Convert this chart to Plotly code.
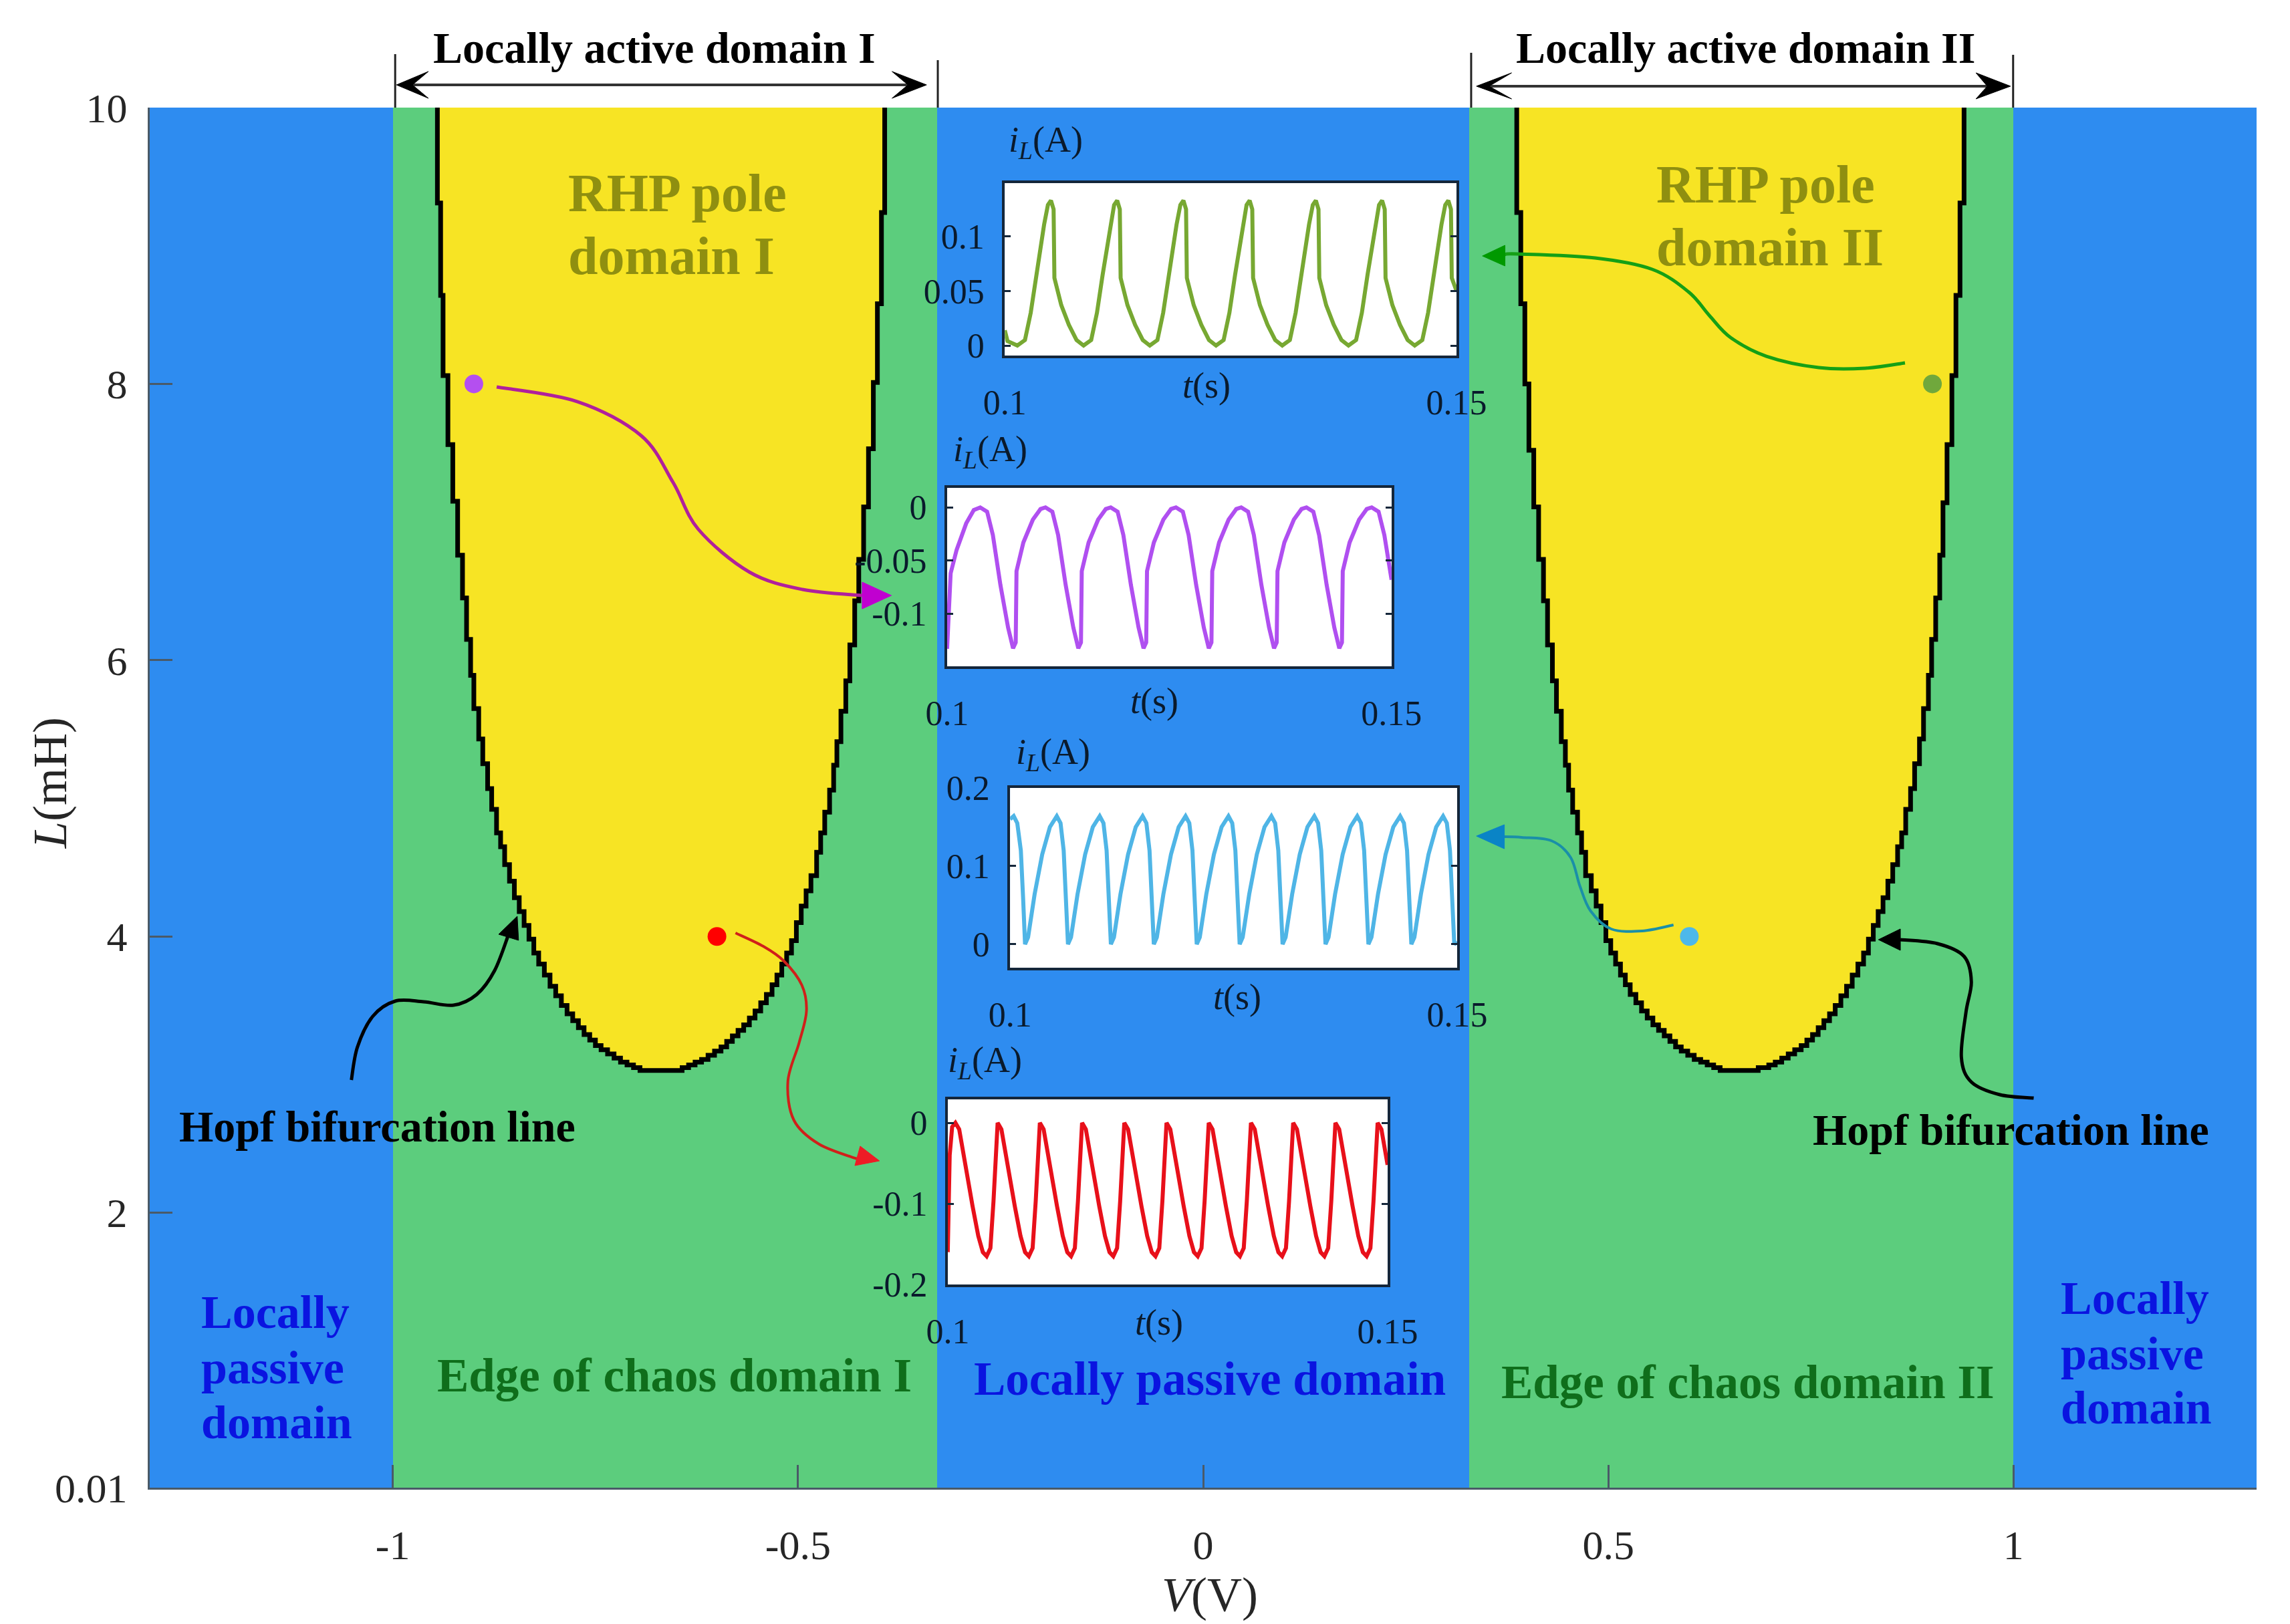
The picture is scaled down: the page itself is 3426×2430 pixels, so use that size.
import plotly.graph_objects as go

# map regions along V
region_edges = [-1.3, -1, -0.328, 0.328, 1, 1.3]
region_code = [0, 1, 0, 1, 0]
L_edges = [0.01, 10]

# Hopf line, domain I (stepped)
hopf1_v = [-0.945, -0.941, -0.938, -0.932, -0.926, -0.920, -0.914, -0.909, -0.904, -0.900, -0.894, -0.889,
           -0.883, -0.878, -0.872, -0.867, -0.862, -0.856, -0.850, -0.844, -0.838, -0.832, -0.826, -0.820,
           -0.813, -0.806, -0.799, -0.792, -0.785, -0.778, -0.771, -0.764, -0.757, -0.750, -0.743, -0.735,
           -0.727, -0.719, -0.711, -0.703, -0.695, -0.643, -0.635, -0.627, -0.619, -0.611, -0.603, -0.595,
           -0.588, -0.581, -0.574, -0.567, -0.560, -0.553, -0.546, -0.539, -0.532, -0.526, -0.520, -0.514,
           -0.508, -0.502, -0.496, -0.490, -0.484, -0.477, -0.472, -0.467, -0.461, -0.456, -0.452, -0.447,
           -0.441, -0.436, -0.430, -0.425, -0.419, -0.413, -0.407, -0.402, -0.397, -0.393, -0.393]
hopf1_l = [10, 9.31, 8.64, 8.06, 7.56, 7.15, 6.76, 6.45, 6.15, 5.89, 5.65, 5.43,
           5.25, 5.07, 4.92, 4.75, 4.65, 4.52, 4.40, 4.28, 4.18, 4.08, 3.98, 3.88,
           3.80, 3.72, 3.64, 3.57, 3.50, 3.44, 3.39, 3.34, 3.29, 3.25, 3.21, 3.18,
           3.15, 3.12, 3.09, 3.07, 3.05, 3.03, 3.05, 3.07, 3.09, 3.11, 3.14, 3.17,
           3.20, 3.24, 3.28, 3.32, 3.36, 3.41, 3.46, 3.52, 3.58, 3.65, 3.72, 3.80,
           3.88, 3.97, 4.10, 4.22, 4.33, 4.44, 4.61, 4.75, 4.90, 5.06, 5.24, 5.41,
           5.63, 5.85, 6.11, 6.43, 6.73, 7.11, 7.53, 8.01, 8.58, 9.24, 10]

# Hopf line, domain II
hopf2_v = [0.387, 0.392, 0.397, 0.402, 0.408, 0.414, 0.420, 0.425, 0.431, 0.436, 0.442, 0.447,
           0.451, 0.456, 0.462, 0.467, 0.472, 0.479, 0.485, 0.491, 0.497, 0.503, 0.509, 0.515,
           0.521, 0.527, 0.534, 0.541, 0.548, 0.555, 0.562, 0.569, 0.576, 0.583, 0.590, 0.598,
           0.606, 0.614, 0.622, 0.630, 0.638, 0.685, 0.698, 0.706, 0.714, 0.722, 0.730, 0.738,
           0.745, 0.752, 0.759, 0.766, 0.773, 0.780, 0.787, 0.794, 0.801, 0.808, 0.815, 0.821,
           0.827, 0.833, 0.839, 0.845, 0.851, 0.857, 0.862, 0.867, 0.873, 0.878, 0.884, 0.889,
           0.895, 0.899, 0.904, 0.909, 0.913, 0.918, 0.924, 0.929, 0.934, 0.939, 0.939]
hopf2_l = [10, 9.24, 8.58, 8.00, 7.52, 7.11, 6.73, 6.43, 6.11, 5.85, 5.63, 5.41,
           5.24, 5.06, 4.90, 4.75, 4.61, 4.44, 4.33, 4.22, 4.10, 3.97, 3.88, 3.80,
           3.72, 3.65, 3.58, 3.52, 3.46, 3.41, 3.36, 3.32, 3.28, 3.24, 3.20, 3.17,
           3.14, 3.11, 3.09, 3.07, 3.05, 3.03, 3.05, 3.07, 3.09, 3.12, 3.15, 3.18,
           3.21, 3.25, 3.29, 3.34, 3.39, 3.44, 3.50, 3.57, 3.64, 3.72, 3.80, 3.88,
           3.98, 4.08, 4.18, 4.28, 4.40, 4.52, 4.65, 4.75, 4.92, 5.07, 5.25, 5.43,
           5.65, 5.89, 6.15, 6.45, 6.76, 7.14, 7.56, 8.06, 8.64, 9.31, 10]

# operating points
point_v = [-0.9, -0.6, 0.9, 0.6]
point_l = [8, 4, 8, 4]
point_colors = ['#b44ff0', '#ff0000', '#70a83c', '#4db8ea']

# inset waveforms, one row per cycle
t_green = [0.1, 0.1003,
           0.10139, 0.10223, 0.10287, 0.10350, 0.10435, 0.10477, 0.10511, 0.10540, 0.10549, 0.10625, 0.10709, 0.10794,
           0.10872, 0.10956, 0.11020, 0.11083, 0.11168, 0.11210, 0.11244, 0.11273, 0.11282, 0.11358, 0.11442, 0.11527,
           0.11605, 0.11689, 0.11753, 0.11816, 0.11901, 0.11943, 0.11977, 0.12006, 0.12015, 0.12091, 0.12175, 0.12260,
           0.12338, 0.12422, 0.12486, 0.12549, 0.12634, 0.12676, 0.12710, 0.12739, 0.12748, 0.12824, 0.12908, 0.12993,
           0.13071, 0.13155, 0.13219, 0.13282, 0.13367, 0.13409, 0.13443, 0.13472, 0.13481, 0.13557, 0.13641, 0.13726,
           0.13804, 0.13888, 0.13952, 0.14015, 0.14100, 0.14142, 0.14176, 0.14205, 0.14214, 0.14290, 0.14374, 0.14459,
           0.14537, 0.14621, 0.14685, 0.14748, 0.14833, 0.14875, 0.14909, 0.14938, 0.14947, 0.15]
i_green = [0.014, 0.004,
           0, 0.005, 0.03, 0.065, 0.111, 0.129, 0.133, 0.125, 0.062, 0.037, 0.019, 0.005,
           0, 0.005, 0.03, 0.065, 0.111, 0.129, 0.133, 0.125, 0.062, 0.037, 0.019, 0.005,
           0, 0.005, 0.03, 0.065, 0.111, 0.129, 0.133, 0.125, 0.062, 0.037, 0.019, 0.005,
           0, 0.005, 0.03, 0.065, 0.111, 0.129, 0.133, 0.125, 0.062, 0.037, 0.019, 0.005,
           0, 0.005, 0.03, 0.065, 0.111, 0.129, 0.133, 0.125, 0.062, 0.037, 0.019, 0.005,
           0, 0.005, 0.03, 0.065, 0.111, 0.129, 0.133, 0.125, 0.062, 0.037, 0.019, 0.005,
           0, 0.005, 0.03, 0.065, 0.111, 0.129, 0.133, 0.125, 0.062, 0.05]

t_purple = [0.1, 0.1002, 0.1004, 0.10107, 0.10215, 0.103,
            0.10373, 0.1045, 0.10515, 0.106, 0.10686, 0.10742, 0.10772, 0.10781, 0.10858, 0.10965, 0.11051,
            0.11107, 0.11184, 0.11249, 0.11334, 0.1142, 0.11476, 0.11506, 0.11515, 0.11592, 0.11699, 0.11785,
            0.11841, 0.11918, 0.11983, 0.12068, 0.12154, 0.1221, 0.1224, 0.12249, 0.12326, 0.12433, 0.12519,
            0.12575, 0.12652, 0.12717, 0.12802, 0.12888, 0.12944, 0.12974, 0.12983, 0.1306, 0.13167, 0.13253,
            0.13309, 0.13386, 0.13451, 0.13536, 0.13622, 0.13678, 0.13708, 0.13717, 0.13794, 0.13901, 0.13987,
            0.14043, 0.1412, 0.14185, 0.1427, 0.14356, 0.14412, 0.14442, 0.14451, 0.14528, 0.14635, 0.14721,
            0.14777, 0.14854, 0.14919, 0.15]
i_purple = [-0.133, -0.1, -0.062, -0.04, -0.015, -0.0025,
            0, -0.004, -0.026, -0.073, -0.113, -0.1325, -0.127, -0.06, -0.033, -0.0115, -0.0015,
            0, -0.004, -0.026, -0.073, -0.113, -0.1325, -0.127, -0.06, -0.033, -0.0115, -0.0015,
            0, -0.004, -0.026, -0.073, -0.113, -0.1325, -0.127, -0.06, -0.033, -0.0115, -0.0015,
            0, -0.004, -0.026, -0.073, -0.113, -0.1325, -0.127, -0.06, -0.033, -0.0115, -0.0015,
            0, -0.004, -0.026, -0.073, -0.113, -0.1325, -0.127, -0.06, -0.033, -0.0115, -0.0015,
            0, -0.004, -0.026, -0.073, -0.113, -0.1325, -0.127, -0.06, -0.033, -0.0115, -0.0015,
            0, -0.004, -0.026, -0.068]

t_blue = [0.1, 0.1004, 0.1008, 0.1012, 0.10145, 0.1016,
          0.10167, 0.10201, 0.10274, 0.10359, 0.10445, 0.10522, 0.10564, 0.10599, 0.1062, 0.10637,
          0.10647, 0.10681, 0.10754, 0.10839, 0.10925, 0.11002, 0.11044, 0.11079, 0.111, 0.11117,
          0.11127, 0.11161, 0.11234, 0.11319, 0.11405, 0.11482, 0.11524, 0.11559, 0.1158, 0.11597,
          0.11607, 0.11641, 0.11714, 0.11799, 0.11885, 0.11962, 0.12004, 0.12039, 0.1206, 0.12077,
          0.12087, 0.12121, 0.12194, 0.12279, 0.12365, 0.12442, 0.12484, 0.12519, 0.1254, 0.12557,
          0.12567, 0.12601, 0.12674, 0.12759, 0.12845, 0.12922, 0.12964, 0.12999, 0.1302, 0.13037,
          0.13047, 0.13081, 0.13154, 0.13239, 0.13325, 0.13402, 0.13444, 0.13479, 0.135, 0.13517,
          0.13527, 0.13561, 0.13634, 0.13719, 0.13805, 0.13882, 0.13924, 0.13959, 0.1398, 0.13997,
          0.14007, 0.14041, 0.14114, 0.14199, 0.14285, 0.14362, 0.14404, 0.14439, 0.1446, 0.14477,
          0.14487, 0.14521, 0.14594, 0.14679, 0.14765, 0.14842, 0.14884, 0.14919, 0.1494, 0.14957,
          0.14967, 0.15]
i_blue = [0.16, 0.164, 0.155, 0.12, 0.06, 0.015,
          0, 0.009, 0.064, 0.115, 0.15, 0.164, 0.155, 0.12, 0.06, 0.015,
          0, 0.009, 0.064, 0.115, 0.15, 0.164, 0.155, 0.12, 0.06, 0.015,
          0, 0.009, 0.064, 0.115, 0.15, 0.164, 0.155, 0.12, 0.06, 0.015,
          0, 0.009, 0.064, 0.115, 0.15, 0.164, 0.155, 0.12, 0.06, 0.015,
          0, 0.009, 0.064, 0.115, 0.15, 0.164, 0.155, 0.12, 0.06, 0.015,
          0, 0.009, 0.064, 0.115, 0.15, 0.164, 0.155, 0.12, 0.06, 0.015,
          0, 0.009, 0.064, 0.115, 0.15, 0.164, 0.155, 0.12, 0.06, 0.015,
          0, 0.009, 0.064, 0.115, 0.15, 0.164, 0.155, 0.12, 0.06, 0.015,
          0, 0.009, 0.064, 0.115, 0.15, 0.164, 0.155, 0.12, 0.06, 0.015,
          0, 0.009, 0.064, 0.115, 0.15, 0.164, 0.155, 0.12, 0.06, 0.015,
          0, 0.003]

t_red = [0.1, 0.10022, 0.1005,
         0.10087, 0.1013, 0.10195, 0.10282, 0.10347, 0.10399, 0.10442, 0.10485, 0.1052, 0.10546, 0.10559,
         0.10567, 0.1061, 0.10675, 0.10762, 0.10827, 0.10879, 0.10922, 0.10965, 0.11, 0.11026, 0.11039,
         0.11047, 0.1109, 0.11155, 0.11242, 0.11307, 0.11359, 0.11402, 0.11445, 0.1148, 0.11506, 0.11519,
         0.11527, 0.1157, 0.11635, 0.11722, 0.11787, 0.11839, 0.11882, 0.11925, 0.1196, 0.11986, 0.11999,
         0.12007, 0.1205, 0.12115, 0.12202, 0.12267, 0.12319, 0.12362, 0.12405, 0.1244, 0.12466, 0.12479,
         0.12487, 0.1253, 0.12595, 0.12682, 0.12747, 0.12799, 0.12842, 0.12885, 0.1292, 0.12946, 0.12959,
         0.12967, 0.1301, 0.13075, 0.13162, 0.13227, 0.13279, 0.13322, 0.13365, 0.134, 0.13426, 0.13439,
         0.13447, 0.1349, 0.13555, 0.13642, 0.13707, 0.13759, 0.13802, 0.13845, 0.1388, 0.13906, 0.13919,
         0.13927, 0.1397, 0.14035, 0.14122, 0.14187, 0.14239, 0.14282, 0.14325, 0.1436, 0.14386, 0.14399,
         0.14407, 0.1445, 0.14515, 0.14602, 0.14667, 0.14719, 0.14762, 0.14805, 0.1484, 0.14866, 0.14879,
         0.14887, 0.1493, 0.15]
i_red = [-0.16, -0.04, -0.005,
         0, -0.008, -0.05, -0.103, -0.14, -0.16, -0.165, -0.155, -0.097, -0.034, -0.006,
         0, -0.008, -0.05, -0.103, -0.14, -0.16, -0.165, -0.155, -0.097, -0.034, -0.006,
         0, -0.008, -0.05, -0.103, -0.14, -0.16, -0.165, -0.155, -0.097, -0.034, -0.006,
         0, -0.008, -0.05, -0.103, -0.14, -0.16, -0.165, -0.155, -0.097, -0.034, -0.006,
         0, -0.008, -0.05, -0.103, -0.14, -0.16, -0.165, -0.155, -0.097, -0.034, -0.006,
         0, -0.008, -0.05, -0.103, -0.14, -0.16, -0.165, -0.155, -0.097, -0.034, -0.006,
         0, -0.008, -0.05, -0.103, -0.14, -0.16, -0.165, -0.155, -0.097, -0.034, -0.006,
         0, -0.008, -0.05, -0.103, -0.14, -0.16, -0.165, -0.155, -0.097, -0.034, -0.006,
         0, -0.008, -0.05, -0.103, -0.14, -0.16, -0.165, -0.155, -0.097, -0.034, -0.006,
         0, -0.008, -0.05, -0.103, -0.14, -0.16, -0.165, -0.155, -0.097, -0.034, -0.006,
         0, -0.008, -0.052]

# tick labels
v_ticks = [-1, -0.5, 0, 0.5, 1]
v_labels = ['-1', '-0.5', '0', '0.5', '1']
l_ticks = [0.01, 2, 4, 6, 8, 10]
l_labels = ['0.01', '2', '4', '6', '8', '10']

W, H = 3426, 2430
LEFT, RIGHT, TOP, BOTTOM = 216, 3392, 153, 2218
SERIF = 'Liberation Serif'
BLUE, GREEN, YELLOW = '#2e8cf0', '#5ccd7d', '#f7e424'
INK = '#0a1a2c'


def px(x):
    return (x - LEFT) / (RIGHT - LEFT)


def py(y):
    return (BOTTOM - y) / (BOTTOM - TOP)


def curve_path(pts):
    # catmull-rom through the points, as an svg path in paper coords
    d = f'M {px(pts[0][0]):.5f} {py(pts[0][1]):.5f}'
    for k in range(len(pts) - 1):
        p0 = pts[max(k - 1, 0)]
        p1 = pts[k]
        p2 = pts[k + 1]
        p3 = pts[min(k + 2, len(pts) - 1)]
        c1 = (p1[0] + (p2[0] - p0[0]) / 6, p1[1] + (p2[1] - p0[1]) / 6)
        c2 = (p2[0] - (p3[0] - p1[0]) / 6, p2[1] - (p3[1] - p1[1]) / 6)
        d += (f' C {px(c1[0]):.5f} {py(c1[1]):.5f} {px(c2[0]):.5f} {py(c2[1]):.5f}'
              f' {px(p2[0]):.5f} {py(p2[1]):.5f}')
    return d


def poly_path(pts):
    return 'M ' + ' L '.join(f'{px(x):.5f} {py(y):.5f}' for x, y in pts) + ' Z'


shapes = []


def add_curve(pts, color, width):
    shapes.append(dict(type='path', xref='paper', yref='paper', path=curve_path(pts),
                       line=dict(color=color, width=width)))


def add_head(pts, color):
    shapes.append(dict(type='path', xref='paper', yref='paper', path=poly_path(pts),
                       fillcolor=color, line=dict(color=color, width=1)))


def add_bar(x0, y0, x1, y1, color='#222222', width=3):
    shapes.append(dict(type='line', xref='paper', yref='paper', x0=px(x0), y0=py(y0), x1=px(x1), y1=py(y1),
                       line=dict(color=color, width=width)))


# brackets above the map
for x, y in [(586, 73), (1404, 82), (2208, 71), (3025, 74)]:
    add_bar(x, y, x, TOP)
add_bar(612, 119, 1359, 119, '#333333', 4)
add_bar(2235, 121, 2986, 121, '#333333', 4)
add_head([(588, 119), (636, 99), (612, 119), (636, 139)], '#000000')
add_head([(1387, 119), (1335, 99), (1359, 119), (1335, 139)], '#000000')
add_head([(2216, 121), (2269, 101), (2235, 121), (2269, 140)], '#000000')
add_head([(3021, 121), (2969, 101), (2986, 121), (2969, 140)], '#000000')

# curved callouts
add_curve([(739, 571), (861, 593), (957, 644), (1005, 714), (1043, 784), (1120, 848), (1200, 874), (1290, 883)],
          '#b0209c', 5)
add_head([(1334, 883), (1290, 863), (1290, 903)], '#c000d0')
add_curve([(1099, 1388), (1141, 1408), (1172, 1430), (1199, 1466), (1206, 1505), (1195, 1552), (1178, 1610),
           (1187, 1668), (1225, 1704), (1285, 1727)], '#d01f1a', 4)
add_head([(1316, 1729), (1287, 1707), (1279, 1736)], '#ee1c25')
add_curve([(520, 1608), (529, 1559), (552, 1513), (586, 1490), (629, 1491), (674, 1496), (709, 1480), (736, 1444),
           (757, 1390)], '#000000', 5)
add_head([(770, 1363), (742, 1390), (772, 1399)], '#000000')
add_curve([(3056, 1635), (3005, 1630), (2962, 1611), (2947, 1574), (2954, 1506), (2962, 1461), (2951, 1423),
           (2911, 1404), (2855, 1398)], '#000000', 5)
add_head([(2822, 1398), (2855, 1382), (2855, 1414)], '#000000')
add_curve([(2513, 1376), (2466, 1385), (2419, 1382), (2388, 1355), (2372, 1318), (2358, 1275), (2329, 1250),
           (2284, 1245), (2256, 1244)], '#1a8fa8', 4)
add_head([(2216, 1243), (2258, 1226), (2258, 1262)], '#0a84c6')
add_curve([(2862, 535), (2802, 543), (2732, 542), (2653, 525), (2599, 497), (2567, 464), (2536, 429), (2481, 395),
           (2395, 378), (2278, 372), (2258, 373)], '#15a015', 5)
add_head([(2225, 375), (2259, 359), (2259, 390)], '#009900')


def label(text, x, y, size, color='#000000', anchor='center', angle=0):
    return dict(text=text, x=px(x), y=py(y), xref='paper', yref='paper', showarrow=False,
                xanchor=anchor, yanchor='middle', textangle=angle,
                font=dict(family=SERIF, size=size, color=color))


OLIVE = '#8f8f10'
DGREEN = '#0f6e1b'
DBLUE = '#0a14e0'
annotations = [
    label('<i>V</i>(V)', 1814, 2378, 72, '#262626'),
    label('<i>L</i>(mH)', 66, 1164, 72, '#262626', angle=-90),
    label('<b>Locally active domain I</b>', 977, 64, 66),
    label('<b>Locally active domain II</b>', 2622, 64, 66),
    label('<b>RHP pole</b>', 845, 281, 80, OLIVE, 'left'),
    label('<b>domain I</b>', 845, 375, 80, OLIVE, 'left'),
    label('<b>RHP pole</b>', 2485, 268, 80, OLIVE, 'left'),
    label('<b>domain II</b>', 2485, 362, 80, OLIVE, 'left'),
    label('<b>Hopf bifurcation line</b>', 559, 1678, 66),
    label('<b>Hopf bifurcation line</b>', 3022, 1682, 66),
    label('<b>Edge of chaos domain I</b>', 1007, 2050, 71, DGREEN),
    label('<b>Edge of chaos domain II</b>', 2625, 2060, 71, DGREEN),
    label('<b>Locally passive domain</b>', 1814, 2055, 71, DBLUE),
    label('<b>Locally</b>', 292, 1955, 70, DBLUE, 'left'),
    label('<b>passive</b>', 292, 2038, 70, DBLUE, 'left'),
    label('<b>domain</b>', 292, 2120, 70, DBLUE, 'left'),
    label('<b>Locally</b>', 3095, 1934, 70, DBLUE, 'left'),
    label('<b>passive</b>', 3095, 2017, 70, DBLUE, 'left'),
    label('<b>domain</b>', 3095, 2098, 70, DBLUE, 'left'),
]

fig = go.Figure()
fig.add_trace(go.Heatmap(x=region_edges, y=L_edges, z=[region_code], zmin=0, zmax=1, showscale=False,
                         colorscale=[[0, BLUE], [0.5, BLUE], [0.5, GREEN], [1, GREEN]], hoverinfo='skip'))
for hv, hl in [(hopf1_v, hopf1_l), (hopf2_v, hopf2_l)]:
    fig.add_trace(go.Scatter(x=hv, y=hl, mode='lines', fill='toself', fillcolor=YELLOW,
                             line=dict(color='#000000', width=7, shape='vh'), showlegend=False))
fig.add_trace(go.Scatter(x=point_v, y=point_l, mode='markers',
                         marker=dict(size=28, color=point_colors), showlegend=False))

axis_main = dict(showgrid=False, zeroline=False, showline=True, linecolor='#4a5a68', linewidth=3,
                 ticks='inside', ticklen=34, tickcolor='#4a5a68', tickwidth=3, layer='above traces',
                 tickmode='array', tickfont=dict(family=SERIF, size=62, color='#262626'))
layout = dict(
    width=W, height=H, autosize=False, showlegend=False,
    margin=dict(l=LEFT, r=W - RIGHT, t=TOP, b=H - BOTTOM, pad=0),
    paper_bgcolor='white', plot_bgcolor='white',
    xaxis=dict(axis_main, range=[-1.3, 1.3], tickvals=v_ticks, ticktext=v_labels, ticklabelstandoff=30),
    yaxis=dict(axis_main, range=[0.01, 10], tickvals=l_ticks, ticktext=l_labels, ticklabelstandoff=18),
)

insets = [
    (t_green, i_green, '#77a832', (1505, 2186), (266, 524), [-0.0092, 0.149], [0, 0.05, 0.1], ['0', '0.05', '0.1'],
     (1567, 205), (1809, 569)),
    (t_purple, i_purple, '#b04ff0', (1418, 2088), (722, 989), [-0.1495, 0.0184], [-0.1, -0.05, 0], ['-0.1', '-0.05', '0'],
     (1483, 667), (1730, 1041)),
    (t_blue, i_blue, '#4fb5e6', (1513, 2187), (1171, 1440), [-0.03, 0.2], [0, 0.1, 0.2], ['0', '0.1', '0.2'],
     (1578, 1120), (1855, 1484)),
    (t_red, i_red, '#e8101a', (1419, 2082), (1637, 1914), [-0.2, 0.029], [-0.2, -0.1, 0], ['-0.2', '-0.1', '0'],
     (1475, 1582), (1737, 1971)),
]

for n, (t, i, color, xspan, yspan, irange, ivals, itext, il_pos, ts_pos) in enumerate(insets, start=2):
    fig.add_trace(go.Scatter(x=t, y=i, mode='lines', line=dict(color=color, width=6),
                             xaxis=f'x{n}', yaxis=f'y{n}', showlegend=False))
    axis_inset = dict(showgrid=False, zeroline=False, showline=True, linecolor='#14263a', linewidth=4,
                      mirror='ticks', ticks='inside', ticklen=9, tickcolor='#14263a', tickwidth=3,
                      layer='above traces', tickfont=dict(family=SERIF, size=52, color=INK))
    layout[f'xaxis{n}'] = dict(axis_inset, domain=[px(xspan[0]), px(xspan[1])], range=[0.1, 0.15],
                               anchor=f'y{n}', tickvals=[0.1, 0.15], ticktext=['0.1', '0.15'],
                               ticklabelstandoff=22)
    layout[f'yaxis{n}'] = dict(axis_inset, domain=[py(yspan[1]), py(yspan[0])], range=irange,
                               anchor=f'x{n}', tickvals=ivals, ticktext=itext, ticklabelstandoff=16)
    shapes.append(dict(type='rect', xref=f'x{n}', yref=f'y{n}', x0=0.1, x1=0.15, y0=irange[0], y1=irange[1],
                       layer='below', fillcolor='white', line=dict(width=0)))
    annotations.append(label('<i>i</i><sub><i>L</i></sub>(A)', il_pos[0], il_pos[1], 54, INK))
    annotations.append(label('<i>t</i>(s)', ts_pos[0], ts_pos[1], 54, INK))

layout['shapes'] = shapes
layout['annotations'] = annotations
fig.update_layout(**layout)

fig.write_html("out.html")
